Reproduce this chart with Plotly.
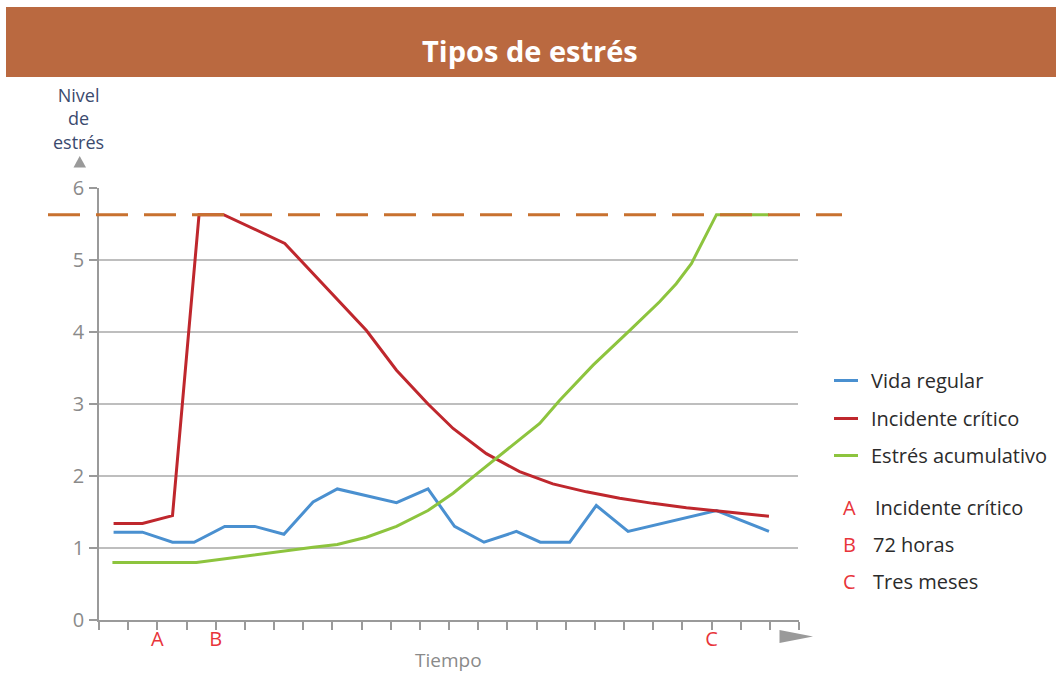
import plotly.graph_objects as go

# ---------------- data ----------------
vida_x = [0.50, 1.49, 2.52, 3.26, 4.31, 5.34, 6.34, 7.34, 8.17, 10.20, 11.28, 12.19,
          13.20, 14.31, 15.13, 16.14, 17.05, 18.14, 21.17, 22.97]
vida_y = [1.22, 1.22, 1.08, 1.08, 1.30, 1.30, 1.19, 1.64, 1.82, 1.63, 1.82, 1.30,
          1.08, 1.23, 1.08, 1.08, 1.59, 1.23, 1.52, 1.23]

incid_x = [0.50, 1.49, 2.52, 3.43, 4.27, 6.37, 9.17, 10.20, 11.28, 12.14, 13.28, 14.42,
           15.56, 16.71, 17.85, 18.99, 20.14, 21.28, 22.97]
incid_y = [1.34, 1.34, 1.45, 5.63, 5.63, 5.23, 4.02, 3.47, 3.00, 2.66, 2.31, 2.06,
           1.89, 1.78, 1.69, 1.62, 1.56, 1.51, 1.44]

acum_x = [0.46, 3.34, 7.34, 8.17, 9.17, 10.20, 11.28, 12.14, 13.05, 14.19, 15.11, 15.79,
          16.94, 18.19, 19.22, 19.79, 20.31, 21.17, 22.97]
acum_y = [0.80, 0.80, 1.01, 1.05, 1.15, 1.30, 1.52, 1.76, 2.06, 2.43, 2.73, 3.05,
          3.54, 4.02, 4.42, 4.67, 4.95, 5.63, 5.63]

limite = 5.63
y_ticks = [0, 1, 2, 3, 4, 5, 6]
grid_levels = [1, 2, 3, 4, 5]
x_ticks = list(range(25))
x_marks = {2: "A", 4: "B", 21: "C"}
x_ticktext = [x_marks.get(i, "") for i in x_ticks]

series_names = ["Vida regular", "Incidente crítico", "Estrés acumulativo"]
series_colors = ["#4A90D0", "#BF272D", "#8DC43E"]
notes_letters = ["A", "B", "C"]
notes_text = ["Incidente crítico", "72 horas", "Tres meses"]

title = "Tipos de estrés"
y_label = "Nivel<br>de<br>estrés"
x_label = "Tiempo"

# ---------------- geometry helpers ----------------
W, H = 1056, 674
L, R, T, B = 99, 799, 188, 620


def px(x):
    return (x - L) / (R - L)


def py(y):
    return (B - y) / (B - T)


FONT = "Open Sans"
GRAY = "#9a9a9a"
TXT_GRAY = "#8a8a8a"
RED_TXT = "#E8343A"
LEG_SIZE = 20

fig = go.Figure()
for xs, ys, name, col in zip([vida_x, incid_x, acum_x], [vida_y, incid_y, acum_y],
                             series_names, series_colors):
    fig.add_trace(go.Scatter(x=xs, y=ys, mode="lines", name=name,
                             line=dict(color=col, width=3), showlegend=False,
                             hoverinfo="skip"))

shapes = []
# banner
shapes.append(dict(type="rect", xref="paper", yref="paper",
                   x0=px(6), x1=px(1056), y0=py(77), y1=py(7),
                   fillcolor="#BA6940", line=dict(width=0), layer="below"))
# gridlines
for g in grid_levels:
    shapes.append(dict(type="line", xref="paper", yref="y", x0=0, x1=px(798),
                       y0=g, y1=g, line=dict(color="#a8a8a8", width=1.5), layer="below"))
# dashed limit line
shapes.append(dict(type="line", xref="paper", yref="y", x0=px(48), x1=px(842),
                   y0=limite, y1=limite,
                   line=dict(color="#C8712F", width=3, dash="32px,16px"), layer="above"))
# axis arrows
shapes.append(dict(type="path", xref="paper", yref="paper",
                   path=f"M {px(73.5)} {py(167.5)} L {px(86)} {py(167.5)} L {px(79.7)} {py(156)} Z",
                   fillcolor=GRAY, line=dict(width=0)))
shapes.append(dict(type="path", xref="paper", yref="paper",
                   path=f"M {px(779.5)} {py(630)} L {px(779.5)} {py(643)} L {px(813)} {py(636.5)} Z",
                   fillcolor=GRAY, line=dict(width=0)))
# legend line samples
leg_y = [380.5, 418.5, 455.5]
for yy, col in zip(leg_y, series_colors):
    shapes.append(dict(type="line", xref="paper", yref="paper", x0=px(834), x1=px(858),
                       y0=py(yy), y1=py(yy), line=dict(color=col, width=3)))

ann = []
ann.append(dict(text=f"<b>{title}</b>", xref="paper", yref="paper", x=px(530), y=py(50),
                showarrow=False, font=dict(family=FONT, size=29, color="white"),
                xanchor="center", yanchor="middle"))
ann.append(dict(text=y_label, xref="paper", yref="paper", x=px(78.5), y=py(118),
                showarrow=False, font=dict(family=FONT, size=18, color="#3B4A6E"),
                xanchor="center", yanchor="middle", align="center"))
ann.append(dict(text=x_label, xref="paper", yref="paper", x=px(448), y=py(660),
                showarrow=False, font=dict(family=FONT, size=19, color=TXT_GRAY),
                xanchor="center", yanchor="middle"))
for yy, name in zip(leg_y, series_names):
    ann.append(dict(text=name, xref="paper", yref="paper", x=px(869), y=py(yy),
                    showarrow=False, font=dict(family=FONT, size=LEG_SIZE, color="#2b2b2b"),
                    xanchor="left", yanchor="middle"))
for yy, let, txt, tx in zip([507, 544, 581], notes_letters, notes_text, [873, 870.5, 870.5]):
    ann.append(dict(text=let, xref="paper", yref="paper", x=px(849), y=py(yy),
                    showarrow=False, font=dict(family=FONT, size=LEG_SIZE, color=RED_TXT),
                    xanchor="center", yanchor="middle"))
    ann.append(dict(text=txt, xref="paper", yref="paper", x=px(tx), y=py(yy),
                    showarrow=False, font=dict(family=FONT, size=LEG_SIZE, color="#2b2b2b"),
                    xanchor="left", yanchor="middle"))

fig.update_layout(
    width=W, height=H,
    margin=dict(l=L, r=W - R, t=T, b=H - B, pad=0),
    paper_bgcolor="white", plot_bgcolor="white",
    shapes=shapes, annotations=ann,
    xaxis=dict(range=[0, 24], tickvals=x_ticks, ticktext=x_ticktext, ticks="outside",
               ticklen=8, tickwidth=1.5, tickcolor=GRAY, showline=True, linecolor=GRAY,
               linewidth=1.5, showgrid=False, zeroline=False, ticklabelstandoff=-8,
               tickfont=dict(family=FONT, size=20, color=RED_TXT), fixedrange=True),
    yaxis=dict(range=[0, 6], tickvals=y_ticks, ticks="outside", ticklen=8, tickwidth=1.5,
               tickcolor=GRAY, showline=True, linecolor=GRAY, linewidth=1.5,
               showgrid=False, zeroline=False, ticklabelstandoff=1,
               tickfont=dict(family=FONT, size=20, color=TXT_GRAY), fixedrange=True),
    showlegend=False,
)

fig.write_html("out.html")
